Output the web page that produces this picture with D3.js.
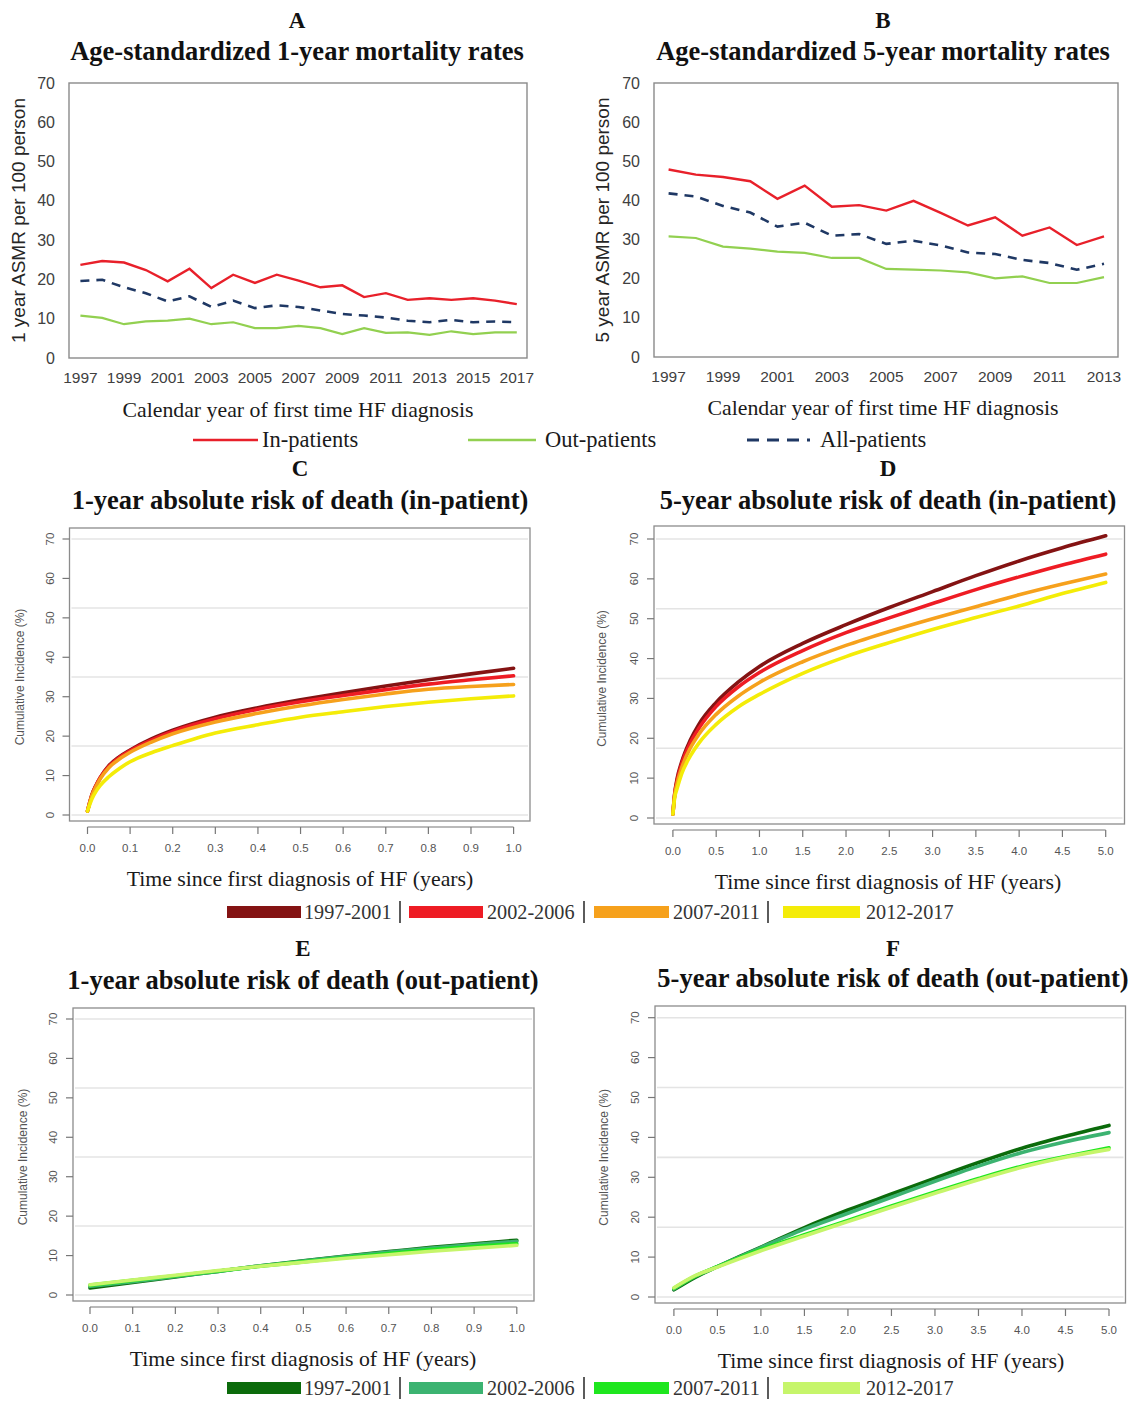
<!DOCTYPE html>
<html><head><meta charset="utf-8">
<script src="https://cdn.jsdelivr.net/npm/d3@7"></script>
<style>body{margin:0;background:#fff}svg{display:block}</style>
</head><body>
<svg id="chart" width="1137" height="1403"></svg>
<script>
// ---------- Panel A data (1-year ASMR) ----------
const yearsA = [1997,1998,1999,2000,2001,2002,2003,2004,2005,2006,2007,2008,2009,2010,2011,2012,2013,2014,2015,2016,2017];
const inA  = [23.7,24.7,24.3,22.4,19.5,22.7,17.8,21.2,19.1,21.2,19.7,18.0,18.5,15.5,16.5,14.8,15.2,14.8,15.2,14.6,13.7];
const outA = [10.8,10.2,8.6,9.3,9.5,10.0,8.6,9.1,7.6,7.6,8.2,7.6,6.1,7.6,6.4,6.5,5.9,6.8,6.1,6.5,6.5];
const allA = [19.6,19.9,18.0,16.5,14.4,15.7,13.0,14.6,12.7,13.4,13.0,12.1,11.2,10.8,10.3,9.5,9.1,9.7,9.1,9.3,9.1];
const xTicksA = [1997,1999,2001,2003,2005,2007,2009,2011,2013,2015,2017];

// ---------- Panel B data (5-year ASMR) ----------
const yearsB = [1997,1998,1999,2000,2001,2002,2003,2004,2005,2006,2007,2008,2009,2010,2011,2012,2013];
const inB  = [47.9,46.6,46.0,44.9,40.4,43.8,38.4,38.8,37.4,39.9,36.8,33.6,35.7,31.0,33.1,28.6,30.8];
const outB = [30.8,30.4,28.2,27.7,26.9,26.6,25.3,25.3,22.5,22.3,22.1,21.6,20.1,20.6,18.9,18.9,20.4];
const allB = [41.8,41.0,38.6,36.9,33.3,34.3,31.0,31.4,28.9,29.7,28.5,26.7,26.3,24.8,24.0,22.3,23.8];
const xTicksB = [1997,1999,2001,2003,2005,2007,2009,2011,2013];

const yTicks = [0,10,20,30,40,50,60,70];
const gridVals = [0,17.5,35,52.5,70];

// ---------- Panel C (1-year in-patient) ----------
const tC = [0,0.01,0.02,0.03,0.05,0.075,0.1,0.15,0.2,0.3,0.4,0.5,0.6,0.7,0.8,0.9,1.0];
const c97 = [1,5,7.5,9.5,12.5,14.8,16.5,19.3,21.5,24.8,27.2,29.2,31.0,32.7,34.3,35.8,37.2];
const c02 = [1,5,7.5,9.5,12.3,14.6,16.3,19.0,21.2,24.4,26.8,28.7,30.3,31.8,33.2,34.3,35.3];
const c07 = [1,4.8,7.2,9.2,12.0,14.2,15.9,18.5,20.6,23.6,25.8,27.7,29.3,30.7,31.9,32.6,33.1];
const c12 = [1,4,6,7.5,9.7,11.8,13.5,15.8,17.6,20.8,22.9,24.8,26.2,27.5,28.6,29.5,30.2];
const xTicks1 = [0,0.1,0.2,0.3,0.4,0.5,0.6,0.7,0.8,0.9,1.0];

// ---------- Panel D (5-year in-patient) ----------
const tD = [0,0.02,0.05,0.1,0.2,0.3,0.5,0.75,1.0,1.5,2.0,2.5,3.0,3.5,4.0,4.5,5.0];
const d97 = [1,6,10,14,19.5,23.5,29,34,38,43.8,48.5,52.8,56.8,60.8,64.5,67.8,70.8];
const d02 = [1,5.8,9.5,13.5,18.8,22.5,28,32.8,36.5,42,46.5,50.2,53.8,57.3,60.5,63.5,66.2];
const d07 = [1,5.5,8.8,12.5,17.5,21,26,30.5,34,39.2,43.3,46.8,50,53,56,58.7,61.2];
const d12 = [1,5,7.5,11,15.5,18.8,23.5,27.8,31,36.3,40.5,44,47.3,50.3,53.2,56.3,59.1];
const xTicks5 = [0,0.5,1.0,1.5,2.0,2.5,3.0,3.5,4.0,4.5,5.0];

// ---------- Panel E (1-year out-patient) ----------
const tE = [0,0.1,0.2,0.3,0.4,0.5,0.6,0.7,0.8,0.9,1.0];
const e97 = [1.8,3.2,4.6,6.0,7.4,8.7,9.9,11.0,12.1,13.0,13.9];
const e02 = [2.2,3.4,4.7,6.0,7.4,8.6,9.8,10.9,11.9,12.8,13.6];
const e07 = [2.5,3.7,4.9,6.1,7.3,8.4,9.5,10.5,11.5,12.3,13.0];
const e12 = [2.6,3.8,5.0,6.2,7.3,8.3,9.3,10.2,11.1,11.9,12.6];

// ---------- Panel F (5-year out-patient) ----------
const tF = [0,0.25,0.5,0.75,1.0,1.5,2.0,2.5,3.0,3.5,4.0,4.5,5.0];
const f97 = [1.8,5.0,7.6,10.1,12.5,17.4,21.8,25.8,29.8,33.7,37.3,40.3,43.0];
const f02 = [2.0,5.2,7.6,10.0,12.4,17.0,21.0,25.0,29.0,32.8,36.2,38.9,41.2];
const f07 = [2.2,5.3,7.6,9.8,11.9,15.6,19.2,22.8,26.3,29.7,32.8,35.2,37.4];
const f12 = [2.3,5.4,7.5,9.6,11.6,15.3,18.9,22.5,26.0,29.4,32.5,35.0,37.0];

const periods = ["1997-2001","2002-2006","2007-2011","2012-2017"];
const redCols = ["#841313","#ee1c24","#f6a11c","#f4ec08"];
const greenCols = ["#0b6b0b","#3cb371","#1ee61e","#c6f56b"];

const svg = d3.select("#chart");
svg.append("rect").attr("width",1137).attr("height",1403).attr("fill","#fff");

const serif = "'Liberation Serif','Times New Roman',serif";
const sans = "'Liberation Sans',Arial,sans-serif";

function titleBlock(letter, text, cx, yL, yT){
  svg.append("text").attr("x",cx).attr("y",yL).attr("text-anchor","middle")
    .attr("font-family",serif).attr("font-weight","bold").attr("font-size",23).attr("fill","#111").text(letter);
  svg.append("text").attr("x",cx).attr("y",yT).attr("text-anchor","middle")
    .attr("font-family",serif).attr("font-weight","bold").attr("font-size",26.5).attr("fill","#111").text(text);
}

// ---------- Line panels A & B ----------
function ratePanel(o){
  const x = d3.scaleLinear().domain(o.xdom).range(o.xr);
  const y = d3.scaleLinear().domain([0,70]).range([o.y0,o.y70]);
  const g = svg.append("g");
  g.append("rect").attr("x",o.bx0).attr("y",o.by0).attr("width",o.bx1-o.bx0).attr("height",o.by1-o.by0)
    .attr("fill","none").attr("stroke","#8a8a8a").attr("stroke-width",1.4);
  g.selectAll(".yt").data(yTicks).enter().append("text")
    .attr("x",o.bx0-14).attr("y",d=>y(d)).attr("dy","0.35em").attr("text-anchor","end")
    .attr("font-family",sans).attr("font-size",16).attr("fill","#404040").text(d=>d);
  g.selectAll(".xt").data(o.xticks).enter().append("text")
    .attr("x",d=>x(d)).attr("y",o.y0+20).attr("dy","0.35em").attr("text-anchor","middle")
    .attr("font-family",sans).attr("font-size",15.5).attr("fill","#404040").text(d=>d);
  g.append("text").attr("transform",`translate(${o.ytx},${(o.y0+o.y70)/2}) rotate(-90)`)
    .attr("text-anchor","middle").attr("dy","0.35em").attr("font-family",sans).attr("font-size",19).attr("fill","#262626").text(o.ytitle);
  g.append("text").attr("x",o.xtx).attr("y",o.xty).attr("text-anchor","middle")
    .attr("font-family",serif).attr("font-size",21.8).attr("fill","#1a1a1a").text("Calendar year of first time HF diagnosis");
  const line = d3.line().x(d=>x(d[0])).y(d=>y(d[1]));
  const mk = arr => o.years.map((yr,i)=>[yr,arr[i]]);
  g.append("path").attr("d",line(mk(o.out))).attr("fill","none").attr("stroke","#92d050").attr("stroke-width",2.2);
  g.append("path").attr("d",line(mk(o.all))).attr("fill","none").attr("stroke","#1f3864").attr("stroke-width",2.6).attr("stroke-dasharray","9,7");
  g.append("path").attr("d",line(mk(o.inp))).attr("fill","none").attr("stroke","#e8202a").attr("stroke-width",2.4);
}

titleBlock("A","Age-standardized 1-year mortality rates",297,28,60);
titleBlock("B","Age-standardized 5-year mortality rates",883,28,60);

ratePanel({xdom:[1997,2017],xr:[80.4,516.8],y0:358,y70:83,bx0:69,bx1:527,by0:83,by1:358,
  xticks:xTicksA,years:yearsA,inp:inA,out:outA,all:allA,ytx:18,ytitle:"1 year ASMR per 100 person",xtx:298,xty:417});
ratePanel({xdom:[1997,2013],xr:[668.6,1104],y0:357,y70:83,bx0:654,bx1:1118,by0:83,by1:357,
  xticks:xTicksB,years:yearsB,inp:inB,out:outB,all:allB,ytx:602,ytitle:"5 year ASMR per 100 person",xtx:883,xty:415});

// legend 1
(function(){
  const ly = 440;
  const items = [
    {x1:193,x2:258,tx:262,col:"#e8202a",dash:null,w:2.6,label:"In-patients"},
    {x1:468,x2:536,tx:545,col:"#92d050",dash:null,w:2.6,label:"Out-patients"},
    {x1:747,x2:810,tx:820,col:"#1f3864",dash:"12,8",w:3,label:"All-patients"}];
  items.forEach(it=>{
    const l = svg.append("line").attr("x1",it.x1).attr("x2",it.x2).attr("y1",ly).attr("y2",ly)
      .attr("stroke",it.col).attr("stroke-width",it.w);
    if(it.dash) l.attr("stroke-dasharray",it.dash);
    svg.append("text").attr("x",it.tx).attr("y",ly+7).attr("font-family",serif).attr("font-size",22.5)
      .attr("fill","#1a1a1a").text(it.label);
  });
})();

// ---------- Cumulative incidence panels ----------
function ciPanel(o){
  const x = d3.scaleLinear().domain([0,o.tmax]).range(o.xr);
  const y = d3.scaleLinear().domain([0,70]).range([o.y0,o.y70]);
  const g = svg.append("g");
  g.selectAll(".grid").data(gridVals).enter().append("line")
    .attr("x1",o.bx0+2).attr("x2",o.bx1-2).attr("y1",d=>y(d)).attr("y2",d=>y(d))
    .attr("stroke","#e4e4e4").attr("stroke-width",1.6);
  g.append("rect").attr("x",o.bx0).attr("y",o.by0).attr("width",o.bx1-o.bx0).attr("height",o.by1-o.by0)
    .attr("fill","none").attr("stroke","#8c8c8c").attr("stroke-width",1.3);
  g.selectAll(".ytk").data(yTicks).enter().append("line")
    .attr("x1",o.bx0-7).attr("x2",o.bx0).attr("y1",d=>y(d)).attr("y2",d=>y(d))
    .attr("stroke","#777").attr("stroke-width",1.2);
  g.selectAll(".ytl").data(yTicks).enter().append("text")
    .attr("transform",d=>`translate(${o.bx0-20},${y(d)}) rotate(-90)`).attr("text-anchor","middle").attr("dy","0.35em")
    .attr("font-family",sans).attr("font-size",11.5).attr("fill","#555").text(d=>d);
  g.append("text").attr("transform",`translate(${o.ytx},${(o.y0+o.y70)/2}) rotate(-90)`)
    .attr("text-anchor","middle").attr("dy","0.35em").attr("font-family",sans).attr("font-size",12).attr("fill","#555")
    .text("Cumulative Incidence (%)");
  const ax = o.by1+6;
  g.append("line").attr("x1",x(0)).attr("x2",x(o.tmax)).attr("y1",ax).attr("y2",ax).attr("stroke","#777").attr("stroke-width",1.2);
  g.selectAll(".xtk").data(o.xticks).enter().append("line")
    .attr("x1",d=>x(d)).attr("x2",d=>x(d)).attr("y1",ax).attr("y2",ax+7).attr("stroke","#777").attr("stroke-width",1.2);
  g.selectAll(".xtl").data(o.xticks).enter().append("text")
    .attr("x",d=>x(d)).attr("y",ax+21).attr("dy","0.35em").attr("text-anchor","middle")
    .attr("font-family",sans).attr("font-size",11.5).attr("fill","#555").text(d=>d.toFixed(1));
  g.append("text").attr("x",o.xtx).attr("y",ax+59).attr("text-anchor","middle")
    .attr("font-family",serif).attr("font-size",21.8).attr("fill","#1a1a1a").text("Time since first diagnosis of HF (years)");
  const line = d3.line().x(d=>x(d[0])).y(d=>y(d[1])).curve(d3.curveMonotoneX);
  o.series.forEach((s,i)=>{
    g.append("path").attr("d",line(o.t.map((tt,j)=>[tt,s[j]]))).attr("fill","none")
      .attr("stroke",o.cols[i]).attr("stroke-width",3.6).attr("stroke-linecap","round");
  });
}

titleBlock("C","1-year absolute risk of death (in-patient)",300,476,509);
titleBlock("D","5-year absolute risk of death (in-patient)",888,476,509);
titleBlock("E","1-year absolute risk of death (out-patient)",303,956,989);
titleBlock("F","5-year absolute risk of death (out-patient)",893,956,987);

ciPanel({tmax:1,xr:[87.5,513.6],y0:815,y70:539,bx0:69.5,bx1:530,by0:528,by1:821,ytx:20,xtx:300,
  xticks:xTicks1,t:tC,series:[c97,c02,c07,c12],cols:redCols});
ciPanel({tmax:5,xr:[672.9,1105.7],y0:818,y70:539,bx0:654,bx1:1124.5,by0:526,by1:824,ytx:602,xtx:888,
  xticks:xTicks5,t:tD,series:[d97,d02,d07,d12],cols:redCols});
ciPanel({tmax:1,xr:[90,516.8],y0:1295,y70:1019,bx0:73,bx1:534,by0:1008,by1:1301,ytx:23,xtx:303,
  xticks:xTicks1,t:tE,series:[e97,e02,e07,e12],cols:greenCols});
ciPanel({tmax:5,xr:[673.9,1109],y0:1297,y70:1017.7,bx0:655,bx1:1125.5,by0:1006,by1:1303,ytx:604,xtx:891,
  xticks:xTicks5,t:tF,series:[f97,f02,f07,f12],cols:greenCols});

// period legends
function periodLegend(ly, cols){
  const rects = [[227,301],[409,483],[594,669],[783,860]];
  const texts = [304,487,673,866];
  const seps = [400,584,768];
  periods.forEach((p,i)=>{
    svg.append("rect").attr("x",rects[i][0]).attr("y",ly-6).attr("width",rects[i][1]-rects[i][0]).attr("height",12)
      .attr("fill",cols[i]);
    svg.append("text").attr("x",texts[i]).attr("y",ly+7).attr("font-family",serif).attr("font-size",20.2)
      .attr("fill","#333").text(p);
  });
  seps.forEach(sx=>svg.append("line").attr("x1",sx).attr("x2",sx).attr("y1",ly-11).attr("y2",ly+11)
    .attr("stroke","#333").attr("stroke-width",1.6));
}
periodLegend(912, redCols);
periodLegend(1388, greenCols);
</script>
</body></html>
